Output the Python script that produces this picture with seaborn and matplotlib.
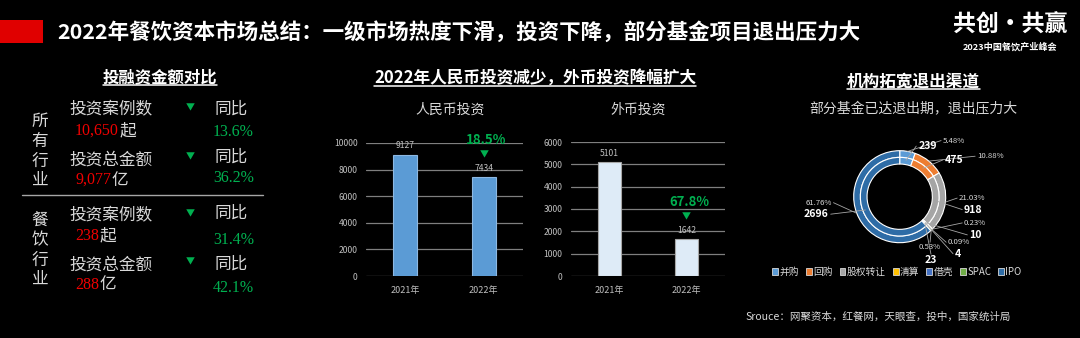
import matplotlib
matplotlib.use("Agg")
import matplotlib.pyplot as plt
import seaborn as sns
import numpy as np
import pandas as pd
from matplotlib.lines import Line2D
from matplotlib.patches import Rectangle, Patch

# ---------------- data ----------------
title = "2022年餐饮资本市场总结：一级市场热度下滑，投资下降，部分基金项目退出压力大"

groups = ["所有行业", "餐饮行业"]
case_counts = ["10,650", "238"]
case_yoy = ["13.6%", "31.4%"]
amounts = ["9,077", "288"]
amount_yoy = ["36.2%", "42.1%"]

years = ["2021年", "2022年"]
rmb_values = [9127, 7434]
foreign_values = [5101, 1642]
rmb_drop = "18.5%"
foreign_drop = "67.8%"

exit_channels = ["并购", "回购", "股权转让", "清算", "借壳", "SPAC", "IPO"]
exit_counts = [239, 475, 918, 10, 4, 23, 2696]
exit_colors = ["#5B9BD5", "#ED7D31", "#A5A5A5", "#FFC000", "#4472C4", "#70AD47", "#2E6CA6"]

source = "Srouce：网聚资本，红餐网，天眼查，投中，国家统计局"

# ---------------- style ----------------
sns.set_theme(style="dark", rc={"axes.facecolor": "black", "figure.facecolor": "black"})
plt.rcParams['font.family'] = ['Noto Sans CJK SC', 'DejaVu Sans']
plt.rcParams['axes.unicode_minus'] = False

RED = "#F00000"
GREEN = "#00B050"
LIGHT = "#D9D9D9"
TICK = "#BFBFBF"
GRID = "#7F7F7F"

W, H = 1080, 338
fig = plt.figure(figsize=(W / 100, H / 100), dpi=100, facecolor="black")
renderer = fig.canvas.get_renderer()


def ftext(x, y, s, **kw):
    """Place text using pixel coordinates measured from the top-left corner."""
    kw.setdefault("va", "center")
    return fig.text(x / W, 1 - y / H, s, **kw)


def pbox(x0, y0, x1, y1):
    return [x0 / W, 1 - y1 / H, (x1 - x0) / W, (y1 - y0) / H]


def underlined(x, y, s, size, gap):
    t = ftext(x, y, s, size=size, color="white", weight="bold", ha="center")
    bb = t.get_window_extent(renderer=renderer)
    yy = 1 - (y + gap) / H
    fig.add_artist(Line2D([bb.x0 / W, bb.x1 / W], [yy, yy], color="white", lw=1.1))
    return t


# ---------------- header ----------------
fig.add_artist(Rectangle((0, 1 - 43 / H), 43 / W, 23 / H, transform=fig.transFigure,
                         color="#E00000", lw=0))
ftext(57, 32, title, size=15.5, weight="bold", color="white", ha="left")
ftext(1010, 25, "共创·共赢", size=16.5, weight="bold", color="white", ha="center")
ftext(1010, 47, "2023中国餐饮产业峰会", size=6.6, weight="bold", color="white", ha="center")

# ---------------- left panel: financing comparison ----------------
underlined(160, 77, "投融资金额对比", 11.8, 8)

group_y = [151, 250]
row_y = [(110, 131, 160, 180), (216, 236, 265, 285)]
yoy_y = [(109, 132, 157, 178), (213, 240, 264, 288)]
arrow_y = [(108, 157), (214, 262)]

for gi, g in enumerate(groups):
    ftext(40, group_y[gi], "\n".join(g), size=12, color=LIGHT, ha="center", linespacing=1.22)
    y_case, y_case_v, y_amt, y_amt_v = row_y[gi]
    ftext(69, y_case, "投资案例数", size=12, color=LIGHT, ha="left")
    ftext(69, y_amt, "投资总金额", size=12, color=LIGHT, ha="left")
    for num, unit, yy in [(case_counts[gi], "起", y_case_v), (amounts[gi], "亿", y_amt_v)]:
        t = ftext(75, yy, num, size=11.5, color=RED, family="Liberation Serif", ha="left")
        bb = t.get_window_extent(renderer=renderer)
        ftext(bb.x1 + 0.5, yy, unit, size=12, color=LIGHT, ha="left")
    s1, p1, s2, p2 = yoy_y[gi]
    ftext(190, arrow_y[gi][0], "▼", size=6.5, color=GREEN, ha="center")
    ftext(190, arrow_y[gi][1], "▼", size=6.5, color=GREEN, ha="center")
    ftext(214, s1, "同比", size=12, color=LIGHT, ha="left")
    ftext(214, s2, "同比", size=12, color=LIGHT, ha="left")
    ftext(213, p1, case_yoy[gi], size=11.5, color=GREEN, family="Liberation Serif", ha="left")
    ftext(213, p2, amount_yoy[gi], size=11.5, color=GREEN, family="Liberation Serif", ha="left")

fig.add_artist(Line2D([22 / W, 263 / W], [1 - 195 / H] * 2, color="#A6A6A6", lw=1))

# ---------------- middle panel: RMB vs foreign currency ----------------
underlined(535, 78, "2022年人民币投资减少，外币投资降幅扩大", 12, 8)


def bar_panel(rect, values, ymax, step, color, edge, subtitle, sub_x, drop):
    ax = fig.add_axes(pbox(*rect))
    ax.set_facecolor("none")
    df = pd.DataFrame({"year": years, "value": values})
    sns.barplot(data=df, x="year", y="value", ax=ax, color=color, edgecolor=edge,
                linewidth=0.8, width=0.31, saturation=1, zorder=3)
    ax.set_xlim(-0.5, 1.5)
    ax.set_ylim(0, ymax)
    ax.set_yticks(np.arange(0, ymax + 1, step))
    ax.yaxis.grid(True, color=GRID, lw=0.9)
    ax.xaxis.grid(False)
    ax.set_axisbelow(True)
    for s in ax.spines.values():
        s.set_visible(False)
    ax.set_xlabel("")
    ax.set_ylabel("")
    ax.tick_params(axis="y", length=0, pad=6, labelsize=6.2, labelcolor=TICK)
    ax.tick_params(axis="x", length=0, pad=7, labelsize=6.5, labelcolor=TICK)
    ax.bar_label(ax.containers[0], labels=[str(v) for v in values], padding=3,
                 fontsize=6.2, color=TICK)
    ax.annotate(drop, xy=(1, values[1]), xytext=(2, 27), textcoords="offset points",
                ha="center", va="center", fontsize=9.5, weight="bold", color=GREEN,
                annotation_clip=False)
    ax.annotate("▼", xy=(1, values[1]), xytext=(0, 16), textcoords="offset points",
                ha="center", va="center", fontsize=6.5, color=GREEN, annotation_clip=False)
    ftext(sub_x, 110, subtitle, size=10, color=LIGHT, ha="center")
    return ax


bar_panel((366, 143, 523, 276), rmb_values, 10000, 2000, "#5B9BD5", "#8DB8E2",
          "人民币投资", 450, rmb_drop)
bar_panel((571, 142, 725, 276), foreign_values, 6000, 1000, "#DEEBF7", "#A6A6A6",
          "外币投资", 638, foreign_drop)

# ---------------- right panel: exit channels donut ----------------
underlined(913, 82, "机构拓宽退出渠道", 12, 7)
ftext(913, 109, "部分基金已达退出期，退出压力大", size=10, color=LIGHT, ha="center")

cx, cy, R = 899.7, 196.7, 46.0
span = 2.2
ax_d = fig.add_axes(pbox(cx - R * span, cy - R * span, cx + R * span, cy + R * span))
ax_d.set_facecolor("none")
ring = dict(width=0.145, edgecolor="white", linewidth=0.8)
ax_d.pie(exit_counts, radius=1.0, colors=exit_colors, startangle=90, counterclock=False,
         wedgeprops=ring)
ax_d.pie(exit_counts, radius=0.855, colors=exit_colors, startangle=90, counterclock=False,
         wedgeprops=ring)
ax_d.set_xlim(-span, span)
ax_d.set_ylim(-span, span)
ax_d.set_aspect("equal")
ax_d.axis("off")

total = sum(exit_counts)
# label anchors (in donut radius units): percent text, count text
pct_pos = [((0.94, 1.22), "left"), ((1.68, 0.88), "left"), ((1.29, -0.03), "left"),
           ((1.40, -0.57), "left"), ((1.05, -0.99), "left"), ((0.66, -1.09), "center"),
           ((-1.48, -0.13), "right")]
cnt_pos = [((0.40, 1.10), "left"), ((0.98, 0.80), "left"), ((1.40, -0.28), "left"),
           ((1.51, -0.83), "left"), ((1.20, -1.24), "left"), ((0.68, -1.37), "center"),
           ((-1.54, -0.38), "right")]


def end_of(x, y, ha, dy=0.0):
    if ha == "left":
        return x - 0.04, y
    if ha == "right":
        return x + 0.04, y
    return x, y + dy


cum = 0
for i, v in enumerate(exit_counts):
    mid = np.deg2rad(90 - 360 * (cum + v / 2) / total)
    cum += v
    (px_, py_), pha = pct_pos[i]
    (qx_, qy_), qha = cnt_pos[i]
    ax_d.text(px_, py_, f"{v / total * 100:.2f}%", ha=pha, va="center", fontsize=5.6,
              color=LIGHT, clip_on=False)
    ax_d.text(qx_, qy_, str(v), ha=qha, va="center", fontsize=7.6, weight="bold",
              color="white", clip_on=False)

    ex, ey = end_of(px_, py_, pha, 0.1)
    ax_d.plot([np.cos(mid) * 1.0, ex], [np.sin(mid) * 1.0, ey], color="#A6A6A6", lw=0.6,
              clip_on=False)
    ex, ey = end_of(qx_, qy_, qha, 0.12)
    ax_d.plot([np.cos(mid) * 0.8, ex], [np.sin(mid) * 0.8, ey], color="#A6A6A6", lw=0.6,
              clip_on=False)

handles = [Patch(facecolor=c, edgecolor=LIGHT, lw=0.6) for c in exit_colors]
fig.legend(handles, exit_channels, loc="center", bbox_to_anchor=(897 / W, 1 - 272 / H),
           ncol=7, frameon=False, fontsize=7, labelcolor=LIGHT, handlelength=0.6,
           handleheight=0.6, handletextpad=0.15, columnspacing=0.7, borderpad=0)

ftext(745, 317, source, size=7.6, color=LIGHT, ha="left")

fig.savefig("out.png", dpi=100, facecolor="black")
